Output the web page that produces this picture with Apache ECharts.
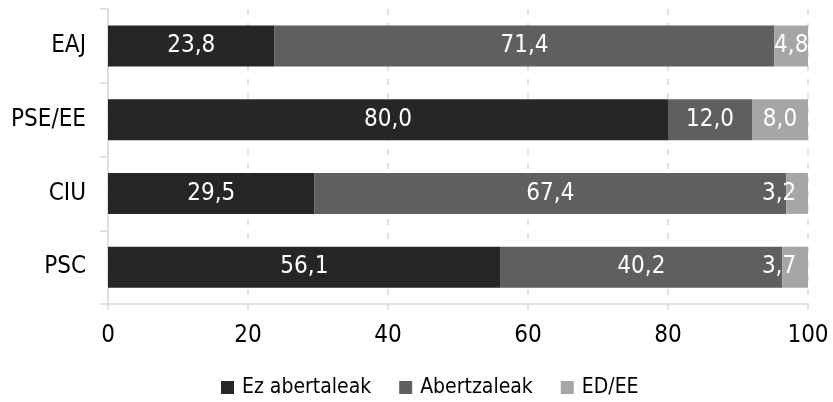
<!DOCTYPE html>
<html><head><meta charset="utf-8">
<script src="https://cdn.jsdelivr.net/npm/echarts@6/dist/echarts.min.js"></script>
<style>html,body{margin:0;padding:0;background:#fff}#c{width:833px;height:402px}</style>
</head><body><div id="c"></div>
<script>
const categories = ['EAJ', 'PSE/EE', 'CIU', 'PSC'];
const ezAbertzaleak = [23.8, 80.0, 29.5, 56.1];
const abertzaleak = [71.4, 12.0, 67.4, 40.2];
const edEe = [4.8, 8.0, 3.2, 3.7];
const seriesNames = ['Ez abertaleak', 'Abertzaleak', 'ED/EE'];
const xTicks = [0, 20, 40, 60, 80, 100];

const FONT = "'DejaVu Sans Condensed', 'DejaVu Sans', sans-serif";
const colors = ['#262626', '#5f5f5f', '#a6a6a6'];
const fmt = p => p.value.toFixed(1).replace('.', ',');
// small manual nudges for narrow segments (like the reference)
const edOffsets = { 'EAJ': [0, 0], 'PSE/EE': [0, 0], 'CIU': [-18, 0], 'PSC': [-16, 0] };

function mkSeries(name, vals, i) {
  return {
    name, type: 'bar', stack: 'total', barWidth: 41,
    itemStyle: { color: colors[i] },
    label: { show: true, position: 'inside', color: '#fff', fontFamily: FONT, fontSize: 24, formatter: fmt },
    data: vals.map((v, k) => i === 2 ? { value: v, label: { offset: edOffsets[categories[k]] } } : v)
  };
}

const chart = echarts.init(document.getElementById('c'));
chart.setOption({
  animation: false,
  textStyle: { fontFamily: FONT },
  grid: { left: 108, right: 25, top: 9, bottom: 98, containLabel: false },
  xAxis: {
    type: 'value', min: 0, max: 100, interval: 20,
    axisLine: { show: true, lineStyle: { color: '#d9d9d9', width: 1.5 } },
    axisTick: { show: true, length: 6, lineStyle: { color: '#d9d9d9', width: 1.5 } },
    splitLine: { show: true, lineStyle: { color: '#d9d9d9', width: 1.5, type: [6, 8] } },
    axisLabel: { color: '#000', fontSize: 24, fontFamily: FONT, margin: 20,
      formatter: v => xTicks.includes(v) ? String(v) : '' }
  },
  yAxis: {
    type: 'category', data: categories, inverse: true,
    axisLine: { show: true, lineStyle: { color: '#d9d9d9', width: 1.5 } },
    axisTick: { show: true, length: 8, lineStyle: { color: '#d9d9d9', width: 1.5 } },
    axisLabel: { color: '#000', fontSize: 24, fontFamily: FONT, margin: 22 }
  },
  legend: {
    bottom: -1, left: 216, itemWidth: 13, itemHeight: 13, itemGap: 28,
    icon: 'rect',
    textStyle: { color: '#000', fontSize: 21, fontFamily: FONT, padding: [0, 0, 0, 3] },
    data: seriesNames
  },
  series: [
    mkSeries(seriesNames[0], ezAbertzaleak, 0),
    mkSeries(seriesNames[1], abertzaleak, 1),
    mkSeries(seriesNames[2], edEe, 2)
  ]
});
</script></body></html>
